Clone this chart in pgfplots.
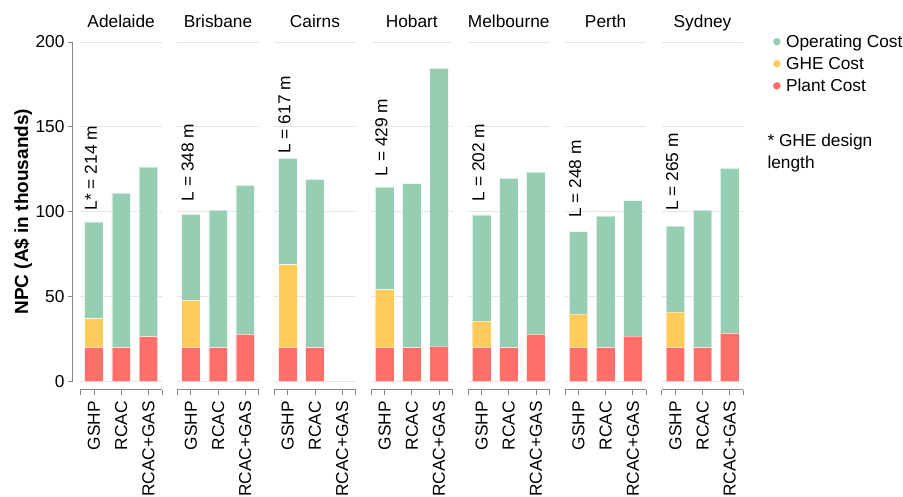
\documentclass[border=0pt]{standalone}
\usepackage{pgfplots}
\pgfplotsset{compat=1.18}
\usepackage{fontspec}
\setmainfont{Liberation Sans}

\definecolor{opcol}{HTML}{96CEB4}
\definecolor{ghecol}{HTML}{FFCC5C}
\definecolor{plantcol}{HTML}{FF6F69}
\definecolor{gridcol}{HTML}{E4E4E4}
\definecolor{axcol}{HTML}{888888}

\newcommand{\fnt}{\fontsize{17.3pt}{21pt}\selectfont}

\tikzset{note/.style={rotate=90, anchor=west, inner sep=0pt, font=\fnt}}

\pgfplotsset{
  panel/.style={
    scale only axis, width=81.5pt, height=339.5pt,
    anchor=south west,
    xmin=-0.5, xmax=2.5, ymin=0, ymax=200,
    enlargelimits=false,
    axis x line*=bottom, axis y line*=left,
    axis x line shift=8pt,
    axis line style={axcol, line width=0.8pt, -},
    every outer y axis line/.style={draw=none},
    every inner y axis line/.style={draw=none},
    tick style={axcol, line width=0.8pt},
    tick align=outside, major tick length=5pt,
    xtick={-0.5,0,1,2,2.5}, xticklabels={,GSHP,RCAC,RCAC+GAS,},
    xticklabel style={rotate=90, anchor=east, inner sep=0pt, font=\fnt, xshift=-6.5pt},
    xmajorgrids=false, xminorgrids=false,
    ytick={0,50,100,150,200},
    ymajorgrids, grid style={gridcol, line width=0.8pt},
    ymajorticks=false,
    ybar stacked, bar width=0.68,
    title style={at={(0.5,1)}, anchor=base, yshift=8.2pt, inner sep=0pt, font=\fnt},
    /pgf/number format/assume math mode=true,
    clip=false,
  },
  firstpanel/.style={
    panel,
    ymajorticks=true,
    every outer y axis line/.style={draw=axcol, line width=0.8pt, -},
    axis y line shift=7.8pt,
    yticklabel style={inner sep=0pt, font=\fnt, xshift=-3pt},
    ylabel={\bfseries NPC (A\$ in thousands)},
    ylabel style={at={(rel axis cs:-0.6405,0.5)}, anchor=base, rotate=0, inner sep=0pt,
      font=\fontsize{19pt}{22pt}\selectfont},
  },
  plant/.style={fill=plantcol, draw=white, draw opacity=0.5, line width=0.6pt},
  ghe/.style={fill=ghecol, draw=white, draw opacity=0.5, line width=0.6pt},
  op/.style={fill=opcol, draw=white, draw opacity=0.5, line width=0.6pt},
}

\begin{document}
\begin{tikzpicture}[font=\fnt]
\useasboundingbox (0,0) rectangle (903pt,496pt);

% Adelaide
\begin{axis}[firstpanel, at={(80.4pt,114.5pt)}, title={Adelaide}]
\addplot[plant] coordinates {(0,20) (1,20) (2,26.5)};
\addplot[ghe] coordinates {(0,17) (1,0) (2,0)};
\addplot[op] coordinates {(0,57) (1,91) (2,99.9)};
\node[note] at (axis cs:-0.12,100.8) {L* = 214 m};
\end{axis}

% Brisbane
\begin{axis}[panel, at={(177.3pt,114.5pt)}, title={Brisbane}]
\addplot[plant] coordinates {(0,20) (1,20) (2,27.7)};
\addplot[ghe] coordinates {(0,27.8) (1,0) (2,0)};
\addplot[op] coordinates {(0,50.7) (1,80.9) (2,87.9)};
\node[note] at (axis cs:-0.12,106.1) {L = 348 m};
\end{axis}

% Cairns
\begin{axis}[panel, at={(274.2pt,114.5pt)}, title={Cairns}]
\addplot[plant] coordinates {(0,20) (1,20) (2,0)};
\addplot[ghe] coordinates {(0,48.8) (1,0) (2,0)};
\addplot[op] coordinates {(0,62.6) (1,99) (2,0)};
\node[note] at (axis cs:-0.12,134.2) {L = 617 m};
\end{axis}

% Hobart
\begin{axis}[panel, at={(371.1pt,114.5pt)}, title={Hobart}]
\addplot[plant] coordinates {(0,20) (1,20) (2,20.8)};
\addplot[ghe] coordinates {(0,34.1) (1,0) (2,0)};
\addplot[op] coordinates {(0,60.5) (1,96.6) (2,163.7)};
\node[note] at (axis cs:-0.12,120.8) {L = 429 m};
\end{axis}

% Melbourne
\begin{axis}[panel, at={(468.0pt,114.5pt)}, title={Melbourne}]
\addplot[plant] coordinates {(0,20) (1,20) (2,27.7)};
\addplot[ghe] coordinates {(0,15.6) (1,0) (2,0)};
\addplot[op] coordinates {(0,62.5) (1,99.6) (2,95.6)};
\node[note] at (axis cs:-0.12,106.1) {L = 202 m};
\end{axis}

% Perth
\begin{axis}[panel, at={(564.9pt,114.5pt)}, title={Perth}]
\addplot[plant] coordinates {(0,20) (1,20) (2,26.7)};
\addplot[ghe] coordinates {(0,19.7) (1,0) (2,0)};
\addplot[op] coordinates {(0,48.6) (1,77.5) (2,79.9)};
\node[note] at (axis cs:-0.12,96.3) {L = 248 m};
\end{axis}

% Sydney (carries the legend)
\begin{axis}[panel, at={(661.8pt,114.5pt)}, title={Sydney},
  legend style={draw=none, fill=none, inner sep=0pt, outer sep=0pt,
    at={(1,1)}, anchor=north west, xshift=29.9pt, yshift=6.7pt,
    nodes={inner sep=0pt, text height=12.4pt, text depth=3.5pt, font=\fnt},
    row sep=6.2pt, column sep=5.5pt},
  legend cell align=left]
\addplot[plant, forget plot] coordinates {(0,20) (1,20) (2,28.3)};
\addplot[ghe, forget plot] coordinates {(0,20.9) (1,0) (2,0)};
\addplot[op, forget plot] coordinates {(0,50.7) (1,80.9) (2,97.2)};
\addlegendimage{legend image code/.code={\fill[opcol] (3.5pt,1.6pt) circle (3.5pt);}}
\addlegendentry{Operating Cost}
\addlegendimage{legend image code/.code={\fill[ghecol] (3.5pt,1.6pt) circle (3.5pt);}}
\addlegendentry{GHE Cost}
\addlegendimage{legend image code/.code={\fill[plantcol] (3.5pt,1.6pt) circle (3.5pt);}}
\addlegendentry{Plant Cost}
\node[note] at (axis cs:-0.12,100.5) {L = 265 m};
\end{axis}

\node[anchor=base west, inner sep=0pt] at (767.3pt,349.2pt) {* GHE design};
\node[anchor=base west, inner sep=0pt] at (767.3pt,327pt) {length};
\end{tikzpicture}
\end{document}
